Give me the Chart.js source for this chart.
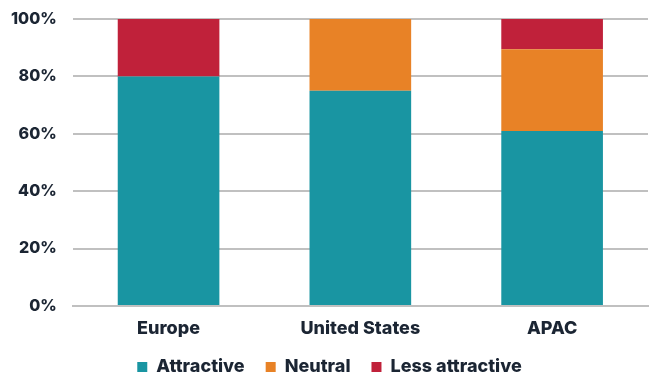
<!DOCTYPE html>
<html><head><meta charset="utf-8">
<script src="https://cdn.jsdelivr.net/npm/chart.js@4/dist/chart.umd.min.js"></script>
<style>html,body{margin:0;padding:0;background:#fff;}#wrap{width:668px;height:382px;}</style>
</head><body><div id="wrap"><canvas id="c"></canvas></div>
<script>
const categories = ["Europe", "United States", "APAC"];
const attractive = [80, 75, 61];
const neutral = [0, 25, 28.5];
const lessAttractive = [20, 0, 10.5];
const yTicks = [0, 20, 40, 60, 80, 100];

const textColor = "#1b2533";
const fontFam = "Inter, 'Open Sans', sans-serif";
const legendFit = {
  id: "legendFit",
  afterInit(chart) {
    const lg = chart.legend;
    const f = lg.fit;
    lg.fit = function () { f.call(this); this.height = 45; };
  }
};
new Chart(document.getElementById("c"), {
  type: "bar",
  data: {
    labels: categories,
    datasets: [
      {label: "Attractive", data: attractive, backgroundColor: "#1995a2"},
      {label: "Neutral", data: neutral, backgroundColor: "#e88226"},
      {label: "Less attractive", data: lessAttractive, backgroundColor: "#c0213a"}
    ]
  },
  plugins: [legendFit],
  options: {
    responsive: true, maintainAspectRatio: false, animation: false,
    layout: {padding: {top: 19, right: 20, left: 11, bottom: 0}},
    datasets: {bar: {categoryPercentage: 1, barPercentage: 0.53}},
    plugins: {
      legend: {position: "bottom", labels: {boxWidth: 10, boxHeight: 10, padding: 21, color: textColor, font: {family: fontFam, size: 18, weight: 800}}},
      tooltip: {enabled: false}
    },
    scales: {
      x: {stacked: true, grid: {display: false, drawTicks: false, tickLength: 0}, border: {color: "#c0c0c0", width: 2},
          afterFit: s => { s.height = 31; },
          ticks: {color: textColor, padding: 12, maxRotation: 0, font: {family: fontFam, size: 18, weight: 800}}},
      y: {stacked: true, min: 0, max: 100, border: {display: false},
          grid: {color: "#c0c0c0", lineWidth: 2, drawTicks: true, tickLength: 16, tickColor: "rgba(0,0,0,0)"},
          afterBuildTicks: s => { s.ticks = yTicks.map(v => ({value: v})); },
          ticks: {color: textColor, padding: 0, font: {family: fontFam, size: 16, weight: 800}, callback: v => v + "%"}}
    }
  }
});
</script></body></html>
